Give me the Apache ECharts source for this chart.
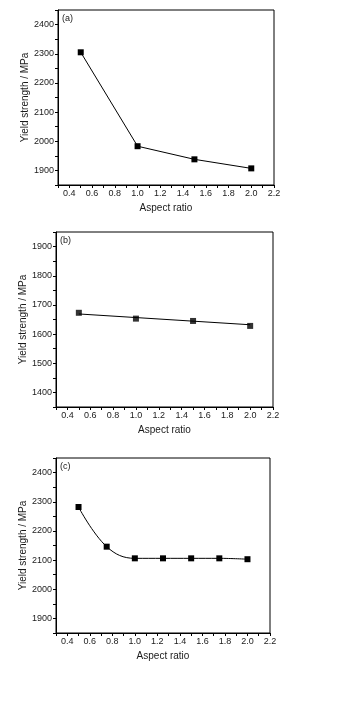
<!DOCTYPE html>
<html><head><meta charset="utf-8">
<script src="https://cdn.jsdelivr.net/npm/echarts@6/dist/echarts.min.js"></script>
<style>html,body{margin:0;padding:0;background:#fff}#c{width:339px;height:714px}</style>
</head><body><div id="c"></div>
<script>
// Panel (a)
const aX = [0.5, 1.0, 1.5, 2.0];
const aY = [2305, 1983, 1938, 1907];
// Panel (b)
const bX = [0.5, 1.0, 1.5, 2.0];
const bY = [1673, 1653, 1645, 1628];
const bFitX = [0.5, 2.0];
const bFitY = [1669, 1632];
// Panel (c)
const cX = [0.5, 0.75, 1.0, 1.25, 1.5, 1.75, 2.0];
const cY = [2282, 2146, 2106, 2106, 2106, 2106, 2103];
const panelLabels = ['(a)', '(b)', '(c)'];
const xName = 'Aspect ratio';
const yName = 'Yield strength / MPa';

const FONT = 'Liberation Sans, Arial, sans-serif';
const TXT = '#1a1a1a';
const grids = [
  {left: 58, top: 10, width: 216, height: 175},
  {left: 56, top: 232, width: 217, height: 175},
  {left: 56, top: 458, width: 214, height: 175}
];
const yRanges = [[1850, 2450], [1350, 1950], [1850, 2450]];

function pairs(xs, ys) { return xs.map((x, i) => [x, ys[i]]); }

const option = {
  animation: false,
  backgroundColor: '#fff',
  title: panelLabels.map((t, i) => ({
    text: t, left: grids[i].left + 4, top: grids[i].top + 4, padding: 0,
    textStyle: {fontSize: 9, fontWeight: 'normal', color: TXT, fontFamily: FONT}
  })),
  grid: grids.map(g => Object.assign({show: true, borderColor: '#000', borderWidth: 1, containLabel: false}, g)),
  xAxis: grids.map((g, i) => ({
    type: 'value', gridIndex: i, min: 0.3, max: 2.2, interval: 0.1,
    name: xName, nameLocation: 'middle', nameGap: 18, nameMoveOverlap: false,
    nameTextStyle: {fontSize: 10, color: TXT, fontFamily: FONT},
    axisLine: {show: true, lineStyle: {color: '#000', width: 1}},
    axisTick: {show: true, inside: false, length: 3, lineStyle: {color: '#000'}},
    splitLine: {show: false},
    axisLabel: {
      fontSize: 9, color: TXT, fontFamily: FONT, margin: 4, showMaxLabel: true, showMinLabel: true,
      formatter: v => { const k = Math.round(v * 10); return (k % 2 === 0) ? (k / 10).toFixed(1) : ''; }
    }
  })),
  yAxis: grids.map((g, i) => ({
    type: 'value', gridIndex: i, min: yRanges[i][0], max: yRanges[i][1], interval: 50,
    name: yName, nameLocation: 'middle', nameGap: 28, nameMoveOverlap: false,
    nameTextStyle: {fontSize: 10, color: TXT, fontFamily: FONT},
    axisLine: {show: true, lineStyle: {color: '#000', width: 1}},
    axisTick: {show: true, inside: false, length: 3, lineStyle: {color: '#000'}},
    splitLine: {show: false},
    axisLabel: {
      fontSize: 9, color: TXT, fontFamily: FONT, margin: 4,
      formatter: v => (Math.round(v) % 100 === 0) ? String(Math.round(v)) : ''
    }
  })),
  series: [
    {type: 'line', xAxisIndex: 0, yAxisIndex: 0, data: pairs(aX, aY),
     symbol: 'rect', symbolSize: 6, itemStyle: {color: '#000'}, lineStyle: {color: '#000', width: 1}},
    {type: 'line', xAxisIndex: 1, yAxisIndex: 1, data: pairs(bFitX, bFitY),
     symbol: 'none', lineStyle: {color: '#000', width: 1}},
    {type: 'scatter', xAxisIndex: 1, yAxisIndex: 1, data: pairs(bX, bY),
     symbol: 'rect', symbolSize: 6, itemStyle: {color: '#000'}},
    {type: 'line', xAxisIndex: 2, yAxisIndex: 2, data: pairs(cX, cY), smooth: 0.4,
     symbol: 'rect', symbolSize: 6, itemStyle: {color: '#000'}, lineStyle: {color: '#000', width: 1}}
  ]
};
const chart = echarts.init(document.getElementById('c'), null, {renderer: 'canvas'});
chart.setOption(option);
</script></body></html>
